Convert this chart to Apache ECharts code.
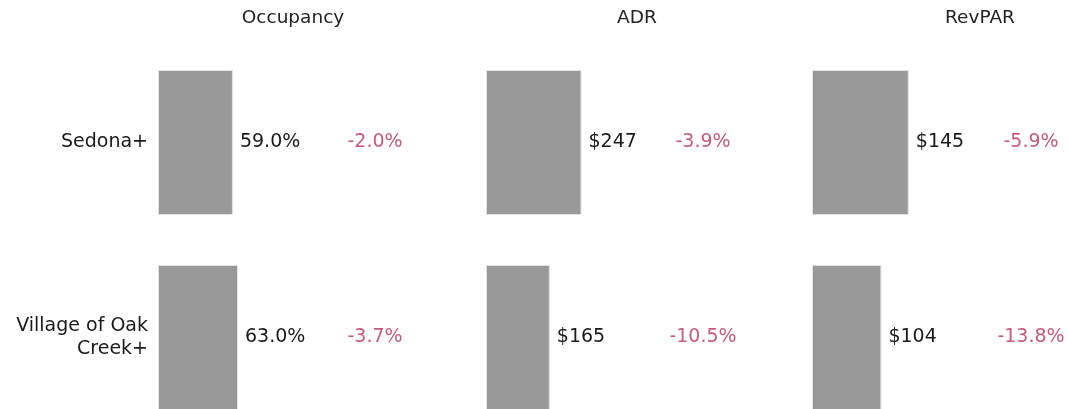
<!DOCTYPE html>
<html>
<head>
<meta charset="utf-8">
<script src="https://cdn.jsdelivr.net/npm/echarts@6/dist/echarts.min.js"></script>
<style>
    html, body { margin: 0; padding: 0; background: #fff; }
    #main { width: 1068px; height: 409px; }
</style>
</head>
<body>
<div id="main"></div>
<script>
    // 数据
    var markets = ['Sedona+', 'Village of Oak\nCreek+'];
    var metrics = ['Occupancy', 'ADR', 'RevPAR'];
    var occupancy = [59.0, 63.0];
    var adr = [247, 165];
    var revpar = [145, 104];
    var occChange = ['-2.0%', '-3.7%'];
    var adrChange = ['-3.9%', '-10.5%'];
    var revparChange = ['-5.9%', '-13.8%'];

    (function(){
        var font = 'DejaVu Sans';
        var fs = 19;
        var values = [occupancy, adr, revpar];
        var changes = [occChange, adrChange, revparChange];
        var fmt = [
            function(v){ return v.toFixed(1) + '%'; },
            function(v){ return '$' + v; },
            function(v){ return '$' + v; }
        ];
        // 每列布局
        var barLeft = [158, 486, 812];
        var barWidth = [127, 116, 133.5];
        var xMax = [100, 300, 200];
        var chgCenter = [375, 703, 1031];
        var titleCenter = [288, 632, 975];

        var grid = [], xAxis = [], yAxis = [], series = [], title = [];
        for (var i = 0; i < 3; i++) {
            title.push({
                text: metrics[i], left: titleCenter[i], top: 4, textAlign: 'center',
                textStyle: { fontFamily: font, fontSize: 18.5, fontWeight: 'normal', color: '#222' }
            });
            // 柱
            grid.push({ left: barLeft[i], top: 45, width: barWidth[i], height: 390, outerBoundsMode: 'none', containLabel: false });
            xAxis.push({ gridIndex: 2 * i, type: 'value', min: 0, max: xMax[i], show: false });
            yAxis.push({
                gridIndex: 2 * i, type: 'category', data: markets, inverse: true,
                axisLine: { show: false }, axisTick: { show: false },
                axisLabel: {
                    show: i === 0, margin: 10, align: 'right', lineHeight: 23,
                    fontFamily: font, fontSize: fs, color: '#1a1a1a'
                }
            });
            series.push({
                type: 'bar', xAxisIndex: 2 * i, yAxisIndex: 2 * i,
                data: values[i], barWidth: 145, silent: true,
                itemStyle: { color: '#999999', borderColor: '#e4e4e4', borderWidth: 1 },
                label: {
                    show: true, position: 'right', distance: 7,
                    fontFamily: font, fontSize: fs, color: '#1a1a1a',
                    formatter: (function(f){ return function(p){ return f(p.value); }; })(fmt[i])
                }
            });
            // 变化率
            grid.push({ left: chgCenter[i] - 50, top: 45, width: 100, height: 390, outerBoundsMode: 'none', containLabel: false });
            xAxis.push({ gridIndex: 2 * i + 1, type: 'value', min: -1, max: 1, show: false });
            yAxis.push({ gridIndex: 2 * i + 1, type: 'category', data: markets, inverse: true, show: false });
            series.push({
                type: 'scatter', xAxisIndex: 2 * i + 1, yAxisIndex: 2 * i + 1,
                symbolSize: 0, silent: true,
                data: markets.map(function(m, k){ return [0, k]; }),
                label: {
                    show: true, position: 'inside', align: 'center',
                    fontFamily: font, fontSize: fs, color: '#bd2f55',
                    formatter: (function(c){ return function(p){ return c[p.dataIndex]; }; })(changes[i])
                }
            });
        }

        var myChart = echarts.init(document.getElementById('main'));
        myChart.setOption({
            animation: false,
            title: title,
            grid: grid,
            xAxis: xAxis,
            yAxis: yAxis,
            series: series
        });
    })()
</script>
</body>
</html>
